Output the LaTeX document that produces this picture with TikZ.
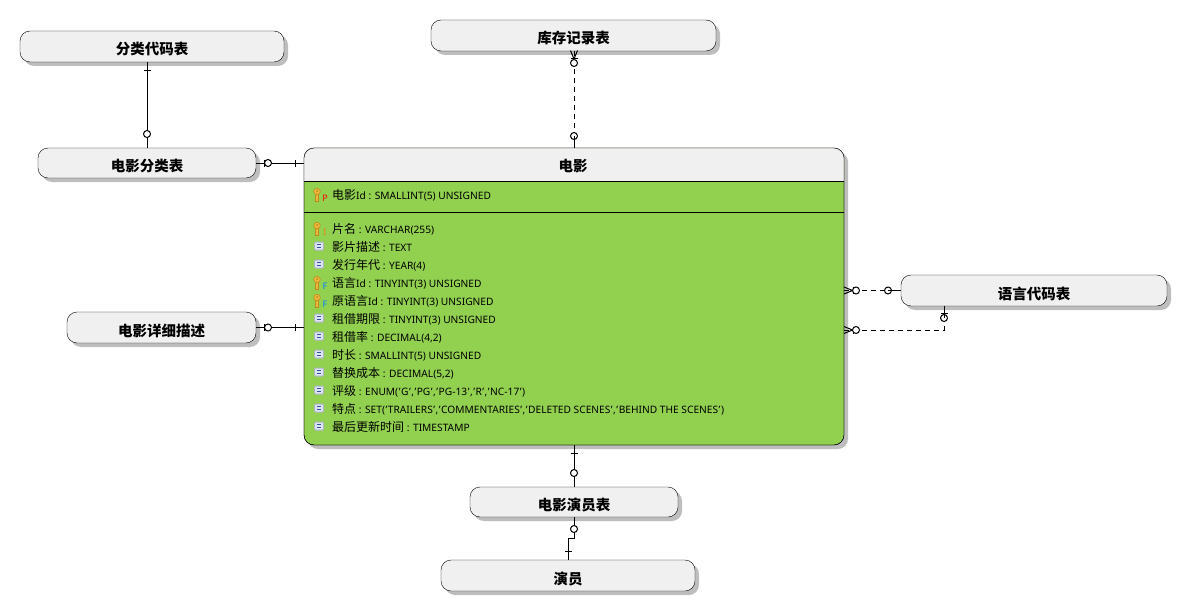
\documentclass[tikz,border=0pt]{standalone}
\usepackage{fontspec}
\setmainfont{Noto Sans}
\newfontfamily\cjk{Noto Sans CJK SC}
\usetikzlibrary{shadows,decorations.markings}
\definecolor{boxgray}{HTML}{F0F0F0}
\definecolor{shadowgray}{HTML}{BEBEBE}
\definecolor{filmgreen}{HTML}{92D050}
\definecolor{keygold}{HTML}{EDB83A}
\definecolor{keyedge}{HTML}{B98A20}
\definecolor{fieldfill}{HTML}{DDE4F2}
\definecolor{fieldedge}{HTML}{AEB6C6}
\definecolor{fieldline}{HTML}{3050A0}
\newcommand{\zh}[1]{{\cjk\fontsize{12}{12}\selectfont #1}}
\newcommand{\qt}{\kern.5pt'\kern.5pt}
\tikzset{
    entbox/.style={draw=black, fill=boxgray, rounded corners=10pt, inner sep=0pt, outer sep=0pt,
        font=\cjk\bfseries\fontsize{14.5}{16}\selectfont, text height=17pt, text depth=0pt,
        drop shadow={shadow xshift=4pt, shadow yshift=-4pt, fill=shadowgray, opacity=1}},
    rowtext/.style={anchor=base west, inner sep=0pt, font=\fontsize{10.2}{12}\selectfont},
    link/.style={draw=black, line width=1pt},
    optlink/.style={link, dash pattern=on 5pt off 4pt},
    tickat/.style={postaction={decorate, decoration={markings, mark=at position #1 with {\draw[solid] (0,-3.5) -- (0,3.5);}}}},
    ringat/.style={postaction={decorate, decoration={markings, mark=at position #1 with {\draw[solid, fill=white] (0,0) circle (3.5);}}}},
    crowat/.style={postaction={decorate, decoration={markings, mark=at position #1 with {\draw[solid] (-8.5,-3.5) -- (0,0) -- (-8.5,3.5);}}}},
    stubat/.style 2 args={postaction={decorate, decoration={markings, mark=at position #1 with {\draw[solid] (0,0) -- (#2,0);}}}},
    keyicon/.pic={
        \fill[keygold, draw=keyedge, line width=0.5pt] (-1.3,-3) rectangle (1.3,6);
        \fill[keygold, draw=keyedge, line width=0.5pt] (0,-3.5) circle (3.3);
        \fill[keyedge] (0,-4) circle (1);
    },
    fieldicon/.pic={
        \draw[draw=fieldedge, fill=fieldfill, rounded corners=1pt, line width=1pt] (-4.5,-4) rectangle (4.5,4);
        \draw[fieldline, line width=1pt] (-2,-1.5) -- (2,-1.5) (-2,1.5) -- (2,1.5);
    }
}
\begin{document}
\begin{tikzpicture}[x=1pt, y=-1pt]
    \useasboundingbox (0,0) rectangle (1191,615);
    % 实体框
    \node[entbox, minimum width=264pt, minimum height=31pt] (daima) at (152,46.5) {分类代码表};
    \node[entbox, minimum width=285pt, minimum height=31pt] (kucun) at (573.5,35.5) {库存记录表};
    \node[entbox, minimum width=218pt, minimum height=30pt] (fenlei) at (147,163) {电影分类表};
    \node[entbox, minimum width=189pt, minimum height=31pt] (xiangxi) at (161.5,327.5) {电影详细描述};
    \node[entbox, minimum width=266pt, minimum height=31pt] (yuyan) at (1034,290.5) {语言代码表};
    \node[entbox, minimum width=208pt, minimum height=30pt] (yanyuanbiao) at (574,502) {电影演员表};
    \node[entbox, minimum width=254pt, minimum height=31pt] (yanyuan) at (568,575.5) {演员};

    % 电影
    \node[entbox, fill=filmgreen, minimum width=540pt, minimum height=297pt] (film) at (574,296.5) {};
    \coordinate (headsep) at (574,181);
    \coordinate (keysep) at (574,212);
    \fill[boxgray] (film.west |- headsep) [rounded corners=10pt] -- (film.north west) -- (film.north east) [sharp corners] -- (film.east |- headsep) -- cycle;
    \draw[rounded corners=10pt] (film.north west) rectangle (film.south east);
    \draw (film.west |- headsep) -- (film.east |- headsep);
    \draw (film.west |- keysep) -- (film.east |- keysep);
    \node[font=\cjk\bfseries\fontsize{14.5}{16}\selectfont, inner sep=0pt] (filmtitle) at (573,166) {电影};

    % 字段
    \node[rowtext] (row0) at (332,199) {\zh{电影}Id : SMALLINT(5) UNSIGNED};
    \foreach \i/\y/\field in {
        1/229/{\zh{片名} : VARCHAR(255)},
        2/247/{\zh{影片描述} : TEXT},
        3/265/{\zh{发行年代} : YEAR(4)},
        4/283/{\zh{语言}Id : TINYINT(3) UNSIGNED},
        5/301/{\zh{原语言}Id : TINYINT(3) UNSIGNED},
        6/319/{\zh{租借期限} : TINYINT(3) UNSIGNED},
        7/337/{\zh{租借率} : DECIMAL(4,2)},
        8/355/{\zh{时长} : SMALLINT(5) UNSIGNED},
        9/373/{\zh{替换成本} : DECIMAL(5,2)},
        10/391/{\zh{评级} : ENUM(\qt G\qt,\qt PG\qt,\qt PG-13\qt,\qt R\qt,\qt NC-17\qt)},
        11/409/{\zh{特点} : SET(\qt TRAILERS\qt,\qt COMMENTARIES\qt,\qt DELETED SCENES\qt,\qt BEHIND THE SCENES\qt)},
        12/427/{\zh{最后更新时间} : TIMESTAMP}} {
        \node[rowtext] (row\i) at (332,\y+4) {\field};
    }
    % 图标
    \foreach \y/\mark/\markcolor in {195/P/red, 229/I/orange!70!brown, 283/F/blue!50!cyan, 301/F/blue!50!cyan} {
        \pic at (317,\y) {keyicon};
        \node[inner sep=0pt, text=\markcolor, font=\fontsize{9}{9}\selectfont] (mark\y) at (325,\y+3) {\mark};
    }
    \foreach \y in {247,265,319,337,355,373,391,409,427} {
        \pic at (319,\y-1) {fieldicon};
    }

    % 连接
    \draw[link, tickat=8.7pt, ringat=-14pt] (daima.south -| fenlei.north) -- (fenlei.north);
    \draw[link, tickat=8pt, ringat=12pt, tickat=-9pt] (fenlei.east) -- (fenlei.east -| film.west);
    \draw[link, tickat=8pt, ringat=12pt, tickat=-9pt] (xiangxi.east) -- (xiangxi.east -| film.west);
    \draw[optlink, crowat=8pt, tickat=8pt, ringat=12pt, ringat=-12pt, stubat={-12pt}{12}] (kucun.south -| film.north) -- (film.north);
    \draw[optlink, crowat=8.5pt, tickat=9pt, ringat=12pt, ringat=-13pt, stubat={-13pt}{13}] (film.east |- yuyan.west) -- (yuyan.west);
    \coordinate (yuyanturn) at (944,330);
    \draw[optlink, crowat=8.5pt, tickat=9pt, ringat=12pt, ringat=-12pt, tickat=-7pt, stubat={-12pt}{12}] (film.east |- yuyanturn) -- (yuyanturn) -- (yuyan.south -| yuyanturn);
    \draw[link, tickat=8pt, ringat=-14pt] (film.south) -- (yanyuanbiao.north);
    \coordinate (yanyuanjog) at (568,538);
    \draw[link, ringat=12pt, tickat=-9pt] (yanyuanbiao.south) |- (yanyuanjog) -- (yanyuan.north);
\end{tikzpicture}
\end{document}
